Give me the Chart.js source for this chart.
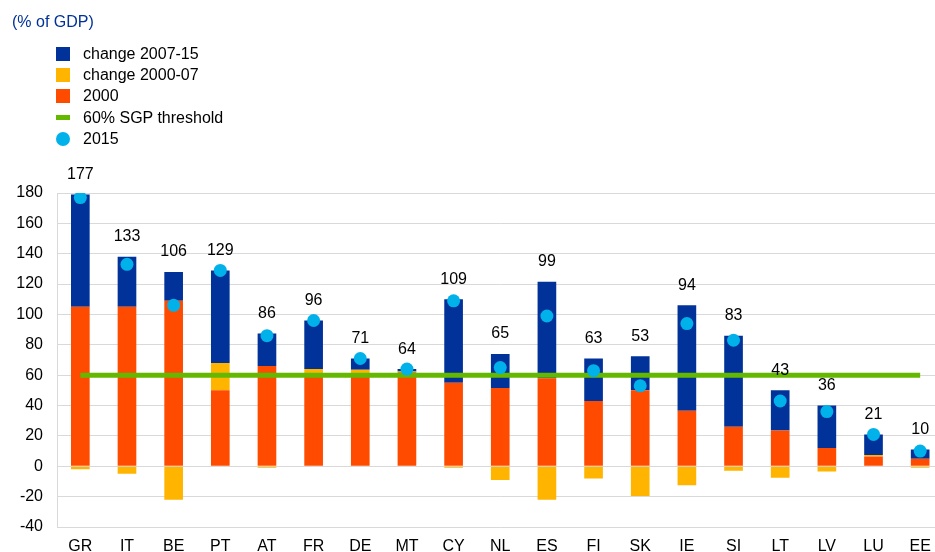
<!DOCTYPE html>
<html>
<head>
<meta charset="utf-8">
<script src="https://cdn.jsdelivr.net/npm/chart.js@4.4.0/dist/chart.umd.min.js"></script>
<style>
  body { margin: 0; width: 935px; height: 552px; overflow: hidden; background: #fff; font-family: 'Liberation Sans', Arial, sans-serif; }
  #wrap { position: absolute; left: 0; top: 0; width: 950px; height: 552px; }
  #unit { position: absolute; left: 12px; top: 13px; font-size: 16px; color: #003299; }
  #legend { position: absolute; left: 56px; top: 43px; list-style: none; margin: 0; padding: 0; font-size: 16px; color: #000; }
  #legend li { height: 21.3px; display: flex; align-items: center; }
  #legend .sw { width: 14px; margin-right: 13px; }
</style>
</head>
<body>
<div id="wrap"><canvas id="debtChart" width="950" height="552"></canvas></div>
<div id="unit">(% of GDP)</div>
<ul id="legend"></ul>
<script>
const countries = ['GR', 'IT', 'BE', 'PT', 'AT', 'FR', 'DE', 'MT', 'CY', 'NL', 'ES', 'FI', 'SK', 'IE', 'SI', 'LT', 'LV', 'LU', 'EE'];
const debt2000 = [105, 105, 109, 50, 66, 59, 59.5, 62, 55, 51.5, 58, 43, 50, 36.5, 26, 23.5, 12, 6.5, 5];
const change0007 = [-2, -5, -22, 18, -1, 5, 4, 0.5, -1, -9, -22, -8, -19.5, -12.5, -3, -7.5, -3.5, 1, -1];
const change0715 = [74, 33, 19, 61, 21.5, 32, 7.5, 1.5, 55, 22.5, 63.5, 28, 22.5, 69.5, 60, 26.5, 28, 13.5, 6];
const debt2015 = [177, 133, 106, 129, 86, 96, 71, 64, 109, 65, 99, 63, 53, 94, 83, 43, 36, 21, 10];
const sgpThreshold = 60;

const BLUE = '#003299', YELLOW = '#ffb400', ORANGE = '#ff4b00', GREEN = '#65b800', CYAN = '#00b1ea';
const GRID = '#d9d9d9';
const FONT = { family: "'Liberation Sans', Arial, sans-serif", size: 16 };

// numbers above each bar (2015 values)
const valueLabels = {
  id: 'valueLabels',
  afterDatasetsDraw(chart) {
    const ctx = chart.ctx;
    ctx.save();
    ctx.font = '16px ' + FONT.family;
    ctx.fillStyle = '#000';
    ctx.textAlign = 'center';
    ctx.textBaseline = 'middle';
    countries.forEach((c, i) => {
      let top = Infinity, x = 0;
      [0, 1, 2].forEach(d => {
        const el = chart.getDatasetMeta(d).data[i];
        top = Math.min(top, el.y, el.base);
        x = el.x;
      });
      ctx.fillText(String(debt2015[i]), x, top - 20);
    });
    ctx.restore();
  }
};

const chart = new Chart(document.getElementById('debtChart'), {
  type: 'bar',
  data: {
    labels: countries,
    datasets: [
      { label: '2000', data: debt2000, backgroundColor: ORANGE, order: 2 },
      { label: 'change 2000-07', data: change0007, backgroundColor: YELLOW, order: 2 },
      { label: 'change 2007-15', data: change0715, backgroundColor: BLUE, order: 2 },
      {
        type: 'line', label: '60% SGP threshold', data: countries.map(() => sgpThreshold),
        borderColor: GREEN, backgroundColor: GREEN, borderWidth: 5, pointRadius: 0,
        stack: 'threshold', order: 1
      },
      {
        type: 'line', label: '2015', data: debt2015, showLine: false,
        pointRadius: 6.5, pointBackgroundColor: CYAN, pointBorderWidth: 0, backgroundColor: CYAN,
        stack: 'y2015', order: 0
      }
    ]
  },
  options: {
    responsive: false,
    animation: false,
    categoryPercentage: 0.4,
    barPercentage: 1,
    layout: { padding: { top: 193, left: 0, right: 3, bottom: 0 } },
    plugins: { legend: { display: false }, tooltip: { enabled: false } },
    scales: {
      x: {
        stacked: true,
        grid: { display: false, drawTicks: false },
        border: { display: false },
        ticks: { color: '#000', font: FONT, padding: 10 },
        afterFit: (s) => { s.height = 25; }
      },
      y: {
        stacked: true,
        min: -40, max: 180,
        grid: { color: GRID, drawTicks: false },
        border: { color: GRID },
        ticks: { color: '#000', font: FONT, stepSize: 20, padding: 14 },
        afterFit: (s) => { s.width = 57; }
      }
    }
  },
  plugins: [valueLabels]
});

// html legend, same order as the original
const legendOrder = [2, 1, 0, 3, 4];
const legendEl = document.getElementById('legend');
legendOrder.forEach(i => {
  const ds = chart.data.datasets[i];
  const li = document.createElement('li');
  const sw = document.createElement('span');
  sw.className = 'sw';
  sw.style.background = ds.backgroundColor;
  sw.style.height = i === 3 ? '5px' : '14px';
  if (i === 4) sw.style.borderRadius = '50%';
  li.appendChild(sw);
  li.appendChild(document.createTextNode(ds.label));
  legendEl.appendChild(li);
});
</script>
</body>
</html>
